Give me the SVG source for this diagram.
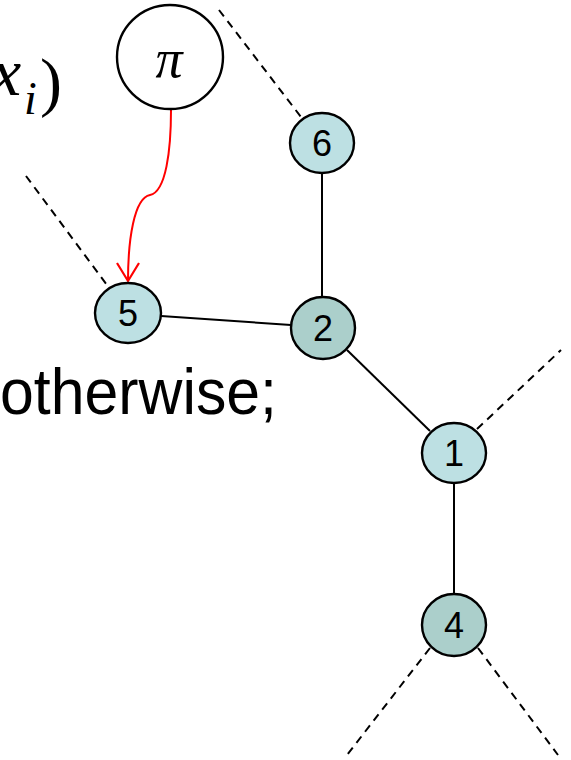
<svg xmlns="http://www.w3.org/2000/svg" width="571" height="760" viewBox="0 0 571 760">
  <defs>
    <style>
      .node { stroke: #000; stroke-width: 2.4; }
      .light { fill: #bde0e3; }
      .dark { fill: #abcfcb; }
      .lbl { font-family: "Liberation Sans", Arial, sans-serif; font-size: 36px; text-anchor: middle; fill: #000; }
      .edge { stroke: #000; stroke-width: 2; fill: none; }
      .dash { stroke: #000; stroke-width: 2; fill: none; stroke-dasharray: 8 6; }
      .math { font-family: "Liberation Serif", "DejaVu Serif", serif; font-style: italic; fill: #000; }
    </style>
    <!-- open V arrowhead, drawn pointing along +x -->
    <marker id="openArrow" viewBox="0 0 24 24" refX="21" refY="12" markerWidth="24" markerHeight="24" markerUnits="userSpaceOnUse" orient="auto">
      <path d="M3,1 L21,12 L3,23" fill="none" stroke="#ff0000" stroke-width="2.2"/>
    </marker>
  </defs>

  <rect width="571" height="760" fill="#fff"/>

  <!-- formula fragments -->
  <text class="math" x="-9" y="95" font-size="68">x</text>
  <text class="math" x="24" y="114" font-size="46">i</text>
  <text x="40" y="104" font-family="Liberation Serif, serif" font-size="66" fill="#000">)</text>
  <text x="0" y="414" font-family="Liberation Sans, Arial, sans-serif" font-size="65" textLength="277" lengthAdjust="spacingAndGlyphs" fill="#000">otherwise;</text>

  <!-- connectors -->
  <g id="connectors">
    <line class="edge" x1="322" y1="173" x2="322" y2="297"/>
    <line class="edge" x1="161" y1="316" x2="291" y2="325"/>
    <line class="edge" x1="347" y1="350" x2="430" y2="431"/>
    <line class="edge" x1="454" y1="483" x2="454" y2="594"/>
    <line class="dash" x1="219" y1="10" x2="301" y2="117"/>
    <line class="dash" x1="26" y1="176" x2="107" y2="285"/>
    <line class="dash" x1="477" y1="429" x2="561" y2="350"/>
    <line class="dash" x1="430" y1="648" x2="347" y2="755"/>
    <line class="dash" x1="478" y1="648" x2="558" y2="755"/>
    <path d="M171,110 C171,150 166,192 150,195 C134,198 128,240 128,281" fill="none" stroke="#ff0000" stroke-width="2" marker-end="url(#openArrow)"/>
  </g>

  <!-- nodes -->
  <g id="node-pi">
    <ellipse cx="170" cy="57" rx="53" ry="52" fill="#fff" stroke="#000" stroke-width="2.4"/>
    <text class="math" x="169" y="77" font-size="54" text-anchor="middle">π</text>
  </g>
  <g id="node-6">
    <ellipse class="node light" cx="322" cy="143" rx="32" ry="30"/>
    <text class="lbl" x="322" y="156">6</text>
  </g>
  <g id="node-5">
    <ellipse class="node light" cx="128" cy="313" rx="33" ry="30"/>
    <text class="lbl" x="128" y="326">5</text>
  </g>
  <g id="node-2">
    <ellipse class="node dark" cx="323" cy="328" rx="32" ry="31"/>
    <text class="lbl" x="323" y="341">2</text>
  </g>
  <g id="node-1">
    <ellipse class="node light" cx="454" cy="453" rx="32" ry="30"/>
    <text class="lbl" x="454" y="466">1</text>
  </g>
  <g id="node-4">
    <ellipse class="node dark" cx="454" cy="625" rx="32" ry="31"/>
    <text class="lbl" x="454" y="638">4</text>
  </g>
</svg>
